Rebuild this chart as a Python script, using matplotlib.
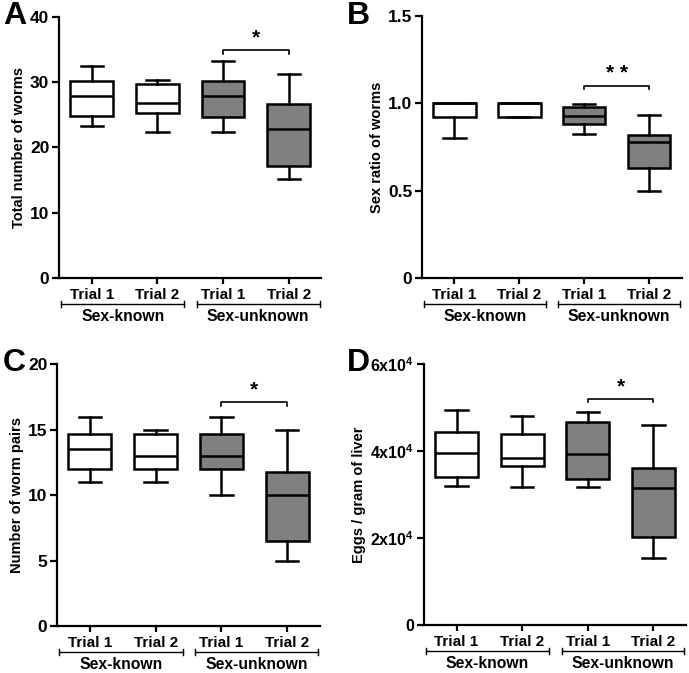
import matplotlib
matplotlib.use("Agg")
import matplotlib.pyplot as plt
import numpy as np

plt.rcParams['font.family'] = ['Liberation Sans', 'DejaVu Sans']
plt.rcParams['font.weight'] = 'bold'
plt.rcParams['axes.labelweight'] = 'bold'
plt.rcParams['mathtext.fontset'] = 'custom'
plt.rcParams['mathtext.rm'] = 'Liberation Sans:bold'
plt.rcParams['mathtext.bf'] = 'Liberation Sans:bold'

trials = ['Trial 1', 'Trial 2', 'Trial 1', 'Trial 2']
groups = ['Sex-known', 'Sex-unknown']
fills = ['white', 'white', '#808080', '#808080']

# box stats per panel: low whisker, Q1, median, Q3, high whisker
worms_lo = [23.3, 22.3, 22.3, 15.2]
worms_q1 = [24.8, 25.3, 24.6, 17.1]
worms_med = [27.8, 26.8, 27.8, 22.8]
worms_q3 = [30.1, 29.7, 30.1, 26.7]
worms_hi = [32.4, 30.3, 33.2, 31.3]

ratio_lo = [0.80, 0.92, 0.825, 0.50]
ratio_q1 = [0.92, 0.92, 0.88, 0.63]
ratio_med = [1.0, 1.0, 0.928, 0.778]
ratio_q3 = [1.0, 1.0, 0.98, 0.82]
ratio_hi = [1.0, 1.0, 0.995, 0.935]

pairs_lo = [11.0, 11.0, 10.0, 5.0]
pairs_q1 = [12.0, 12.0, 12.0, 6.5]
pairs_med = [13.5, 13.0, 13.0, 10.0]
pairs_q3 = [14.7, 14.7, 14.7, 11.8]
pairs_hi = [16.0, 15.0, 16.0, 15.0]

eggs_lo = [32000, 31600, 31600, 15400]
eggs_q1 = [33900, 36500, 33600, 20100]
eggs_med = [39500, 38400, 39300, 31400]
eggs_q3 = [44400, 43800, 46700, 36100]
eggs_hi = [49300, 48000, 49000, 46000]

panels = [
    dict(letter='A', ylabel='Total number of worms', stats=(worms_lo, worms_q1, worms_med, worms_q3, worms_hi),
         ylim=40, yticks=[0, 10, 20, 30, 40], yticklabels=['0', '10', '20', '30', '40'],
         sig=34.9, star='*', rect=[0.0856, 0.587, 0.381, 0.388], lxy=(0.004, 0.998), tsize=12.5),
    dict(letter='B', ylabel='Sex ratio of worms', stats=(ratio_lo, ratio_q1, ratio_med, ratio_q3, ratio_hi),
         ylim=1.5, yticks=[0, 0.5, 1.0, 1.5], yticklabels=['0', '0.5', '1.0', '1.5'],
         sig=1.10, star='* *', rect=[0.6125, 0.587, 0.377, 0.389], lxy=(0.503, 0.998), tsize=12.5),
    dict(letter='C', ylabel='Number of worm pairs', stats=(pairs_lo, pairs_q1, pairs_med, pairs_q3, pairs_hi),
         ylim=20, yticks=[0, 5, 10, 15, 20], yticklabels=['0', '5', '10', '15', '20'],
         sig=17.1, star='*', rect=[0.0827, 0.0698, 0.382, 0.389], lxy=(0.004, 0.483), tsize=12.5),
    dict(letter='D', ylabel='Eggs / gram of liver', stats=(eggs_lo, eggs_q1, eggs_med, eggs_q3, eggs_hi),
         ylim=60000, yticks=[0, 20000, 40000, 60000],
         yticklabels=['0', r'2x10$^{4}$', r'4x10$^{4}$', r'6x10$^{4}$'],
         sig=51900, star='*', rect=[0.615, 0.0714, 0.381, 0.388], lxy=(0.503, 0.483), tsize=11.5),
]

fig = plt.figure(figsize=(6.89, 6.73), dpi=100)

for p in panels:
    ax = fig.add_axes(p['rect'])
    lo, q1, med, q3, hi = p['stats']
    bstats = [dict(whislo=lo[i], q1=q1[i], med=med[i], q3=q3[i], whishi=hi[i], fliers=[])
              for i in range(len(trials))]
    pos = np.arange(len(trials))
    bp = ax.bxp(bstats, positions=pos, widths=0.65, capwidths=0.34, patch_artist=True,
                showfliers=False,
                boxprops=dict(linewidth=1.8, edgecolor='black'),
                whiskerprops=dict(linewidth=1.8, color='black'),
                capprops=dict(linewidth=1.8, color='black'),
                medianprops=dict(linewidth=1.8, color='black'))
    for patch, c in zip(bp['boxes'], fills):
        patch.set_facecolor(c)

    ax.set_xlim(-0.5, 3.5)
    ax.set_ylim(0, p['ylim'])
    ax.set_yticks(p['yticks'])
    ax.set_yticklabels(p['yticklabels'])
    ax.set_xticks(pos)
    ax.set_xticklabels(trials)
    ax.spines['top'].set_visible(False)
    ax.spines['right'].set_visible(False)
    ax.spines['left'].set_linewidth(1.6)
    ax.spines['bottom'].set_linewidth(1.6)
    ax.tick_params(axis='both', width=1.6)
    ax.tick_params(axis='y', length=5, labelsize=p['tsize'], pad=2)
    ax.tick_params(axis='x', length=4, pad=3, labelsize=11)
    ax.set_ylabel(p['ylabel'], fontsize=10.5, labelpad=3)

    # significance bracket between the two sex-unknown trials
    h = p['ylim'] * 0.013
    ax.plot([2, 2, 3, 3], [p['sig'] - h, p['sig'], p['sig'], p['sig'] - h],
            color='black', linewidth=1.2, clip_on=False)
    ax.text(2.5, p['sig'] + p['ylim'] * 0.012, p['star'], ha='center', va='bottom',
            fontsize=15, fontweight='bold')

    # group brackets below the trial labels
    tr = ax.get_xaxis_transform()
    for (x0, x1), g in zip([(-0.47, 1.41), (1.6, 3.47)], groups):
        ax.plot([x0, x1], [-0.099, -0.099], transform=tr, color='black',
                linewidth=1.0, clip_on=False)
        for xe in (x0, x1):
            ax.plot([xe, xe], [-0.088, -0.110], transform=tr, color='black',
                    linewidth=1.0, clip_on=False)
        ax.text((x0 + x1) / 2, -0.118, g, transform=tr, ha='center', va='top',
                fontsize=11.3, fontweight='bold')

    # panel letter
    fig.text(p['lxy'][0], p['lxy'][1], p['letter'], fontsize=23, fontweight='bold',
             va='top', ha='left')

fig.savefig('out.png', dpi=100)
